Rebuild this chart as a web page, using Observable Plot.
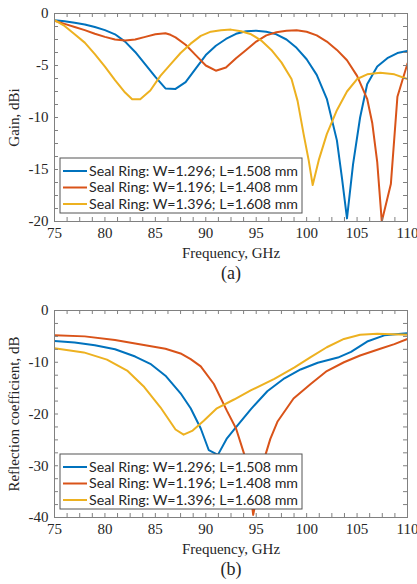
<!DOCTYPE html>
<html><head><meta charset="utf-8">
<script src="https://cdn.jsdelivr.net/npm/d3@7"></script>
<script src="https://cdn.jsdelivr.net/npm/@observablehq/plot@0.6"></script>
<style>
html,body{margin:0;padding:0;background:#fff;}
#wrap{width:417px;}
svg{display:block;}
</style></head>
<body><div id="wrap"></div>
<script>
// ---------- data ----------
const seriesNames = [
  "Seal Ring: W=1.296; L=1.508 mm",
  "Seal Ring: W=1.196; L=1.408 mm",
  "Seal Ring: W=1.396; L=1.608 mm"
];
const seriesColors = ["#0072BD", "#D95319", "#EDB120"];
const xTicks = [75, 80, 85, 90, 95, 100, 105, 110];
const gainTicks = [-20, -15, -10, -5, 0];
const reflTicks = [-40, -30, -20, -10, 0];

// Gain, dBi vs Frequency, GHz
const gainW1296 = [[75,-0.64],[76,-0.75],[77,-0.9],[78,-1.05],[79,-1.3],[80,-1.6],[81,-2.0],[82,-2.7],[83,-3.7],[84,-4.9],[85,-6.1],[86,-7.2],[87,-7.25],[88,-6.6],[89,-5.3],[90,-4.0],[91,-3.1],[92,-2.45],[93,-1.95],[94,-1.7],[95,-1.65],[96,-1.75],[97,-2.0],[98,-2.5],[99,-3.3],[100,-4.4],[101,-5.9],[102,-8.2],[103,-12.2],[103.5,-15.8],[104,-19.7],[104.6,-14.5],[105.3,-10.0],[106,-6.8],[107,-5.1],[108,-4.3],[109,-3.8],[110,-3.6]];
const gainW1196 = [[75,-0.7],[76,-1.0],[77,-1.3],[78,-1.6],[79,-1.95],[80,-2.25],[81,-2.5],[82,-2.6],[83,-2.5],[84,-2.25],[85,-2.0],[86,-1.9],[86.5,-2.05],[87,-2.3],[88,-3.0],[89,-4.0],[90,-5.0],[91,-5.5],[92,-5.2],[93,-4.3],[94,-3.5],[95,-2.7],[96,-2.1],[97,-1.8],[98,-1.65],[99,-1.6],[100,-1.75],[101,-2.1],[102,-2.7],[103,-3.5],[104,-4.5],[105,-6.0],[106,-8.2],[106.5,-10.5],[107,-14.3],[107.45,-20],[108.35,-16.4],[109,-8.0],[110,-4.8]];
const gainW1396 = [[75,-0.64],[76,-1.2],[77,-2.0],[78,-2.8],[79,-3.9],[80,-5.1],[81,-6.4],[82,-7.6],[82.7,-8.25],[83.5,-8.25],[84.5,-7.4],[85.5,-6.0],[86.5,-4.9],[87.5,-3.8],[88.5,-2.9],[89.5,-2.15],[90.5,-1.75],[91.5,-1.6],[92.5,-1.55],[93.5,-1.7],[94.5,-2.0],[95.5,-2.6],[96.5,-3.5],[97.5,-4.7],[98.5,-6.3],[99.1,-8.4],[99.7,-11.6],[100.2,-14.1],[100.6,-16.5],[101.2,-14.1],[102,-11.6],[103,-9.3],[104,-7.5],[105,-6.3],[106,-5.85],[107.3,-5.7],[108.7,-5.85],[110,-6.3]];

// Reflection coefficient, dB vs Frequency, GHz
const reflW1296 = [[75,-5.9],[77,-6.2],[79,-6.7],[81,-7.5],[83,-8.9],[84.5,-10.3],[86,-12.6],[87.5,-16.0],[88.5,-18.9],[89.5,-22.8],[90.3,-27.0],[91.2,-27.9],[92.1,-24.7],[92.8,-23.0],[94.5,-19.0],[96.1,-15.6],[97.8,-13.1],[99.4,-11.4],[101.1,-10.1],[103.1,-9.1],[104.4,-8.0],[106,-6.0],[107.7,-4.8],[110,-4.4]];
const reflW1196 = [[75,-4.8],[78,-5.0],[81,-5.7],[84,-6.7],[86,-7.4],[87.5,-8.3],[88.5,-9.4],[89.5,-10.8],[90.8,-14.2],[92.1,-19.4],[93,-22.8],[93.8,-27.7],[94.3,-33],[94.7,-39.5],[95.3,-33.5],[95.9,-28.0],[96.4,-24.8],[97.1,-21.5],[98.7,-17.0],[100.4,-14.2],[102,-11.7],[103.7,-10.0],[105.3,-8.7],[107.3,-7.4],[108.7,-6.5],[110,-5.5]];
const reflW1396 = [[75,-7.3],[77.9,-8.1],[80.2,-9.5],[82.2,-11.6],[83.9,-14.8],[85.5,-18.7],[87,-23.0],[87.8,-24.0],[88.7,-23.2],[89.8,-21.3],[91.1,-18.9],[92.8,-17.2],[94.5,-15.4],[96.8,-13.2],[98.8,-11.0],[100.4,-9.0],[102,-7.1],[103.7,-5.5],[105.3,-4.7],[107,-4.5],[110,-4.7]];

// ---------- drawing ----------
const serif = "'Liberation Serif', 'Times New Roman', serif";
const sans = "Lato, 'Open Sans', sans-serif";
const axisGray = "#808080";
const textCol = "#262626";

function makeChart({series, yDomain, yTicks, yMinorStep, yLabel, tag, height, marginTop, marginBottom}) {
  const W = 417, mL = 54, mR = 10;
  const plotH = height - marginTop - marginBottom;
  const plotW = W - mL - mR;
  const xMinor = d3.range(75, 110.001, 1.25);
  const yMinor = d3.range(yDomain[0], yDomain[1] + 0.001, yMinorStep);
  const rows = series.flatMap((s, i) => s.map(([f, v]) => ({f, v, k: i})));
  const tl = 4;
  const svg = Plot.plot({
    width: W, height, marginLeft: mL, marginRight: mR, marginTop, marginBottom,
    style: {fontFamily: serif, fontSize: "15px", color: textCol, background: "#fff"},
    x: {domain: [75, 110]},
    y: {domain: yDomain},
    marks: [
      Plot.line(rows, {x: "f", y: "v", z: "k", stroke: d => seriesColors[d.k], strokeWidth: 2, clip: true, curve: "linear"}),
      Plot.tickX(xMinor, {x: d => d, stroke: axisGray, insetTop: plotH - tl}),
      Plot.tickX(xMinor, {x: d => d, stroke: axisGray, insetBottom: plotH - tl}),
      Plot.tickY(yMinor, {y: d => d, stroke: axisGray, insetRight: plotW - tl}),
      Plot.tickY(yMinor, {y: d => d, stroke: axisGray, insetLeft: plotW - tl}),
      Plot.frame({stroke: axisGray}),
      Plot.axisX({ticks: xTicks, tickSize: 0, tickPadding: 6, tickFormat: d => String(d), label: null, fill: textCol, fontSize: 15}),
      Plot.axisY({ticks: yTicks, tickSize: 0, tickPadding: 6, tickFormat: d => String(d), label: null, fill: textCol, fontSize: 15}),
      Plot.text([yLabel], {text: d => d, frameAnchor: "left", textAnchor: "middle", dx: -40, rotate: -90, fill: textCol, fontSize: 15}),
      Plot.text(["Frequency, GHz"], {text: d => d, frameAnchor: "bottom", textAnchor: "middle", dy: 36, fill: textCol, fontSize: 15}),
      Plot.text([tag], {text: d => d, frameAnchor: "bottom", textAnchor: "middle", dy: 57, fill: textCol, fontSize: 18})
    ]
  });
  // legend (layout element, drawn over the curves like the original)
  const bw = 242, bh = 55;
  const g = d3.select(svg).append("g")
    .attr("text-anchor", "start")
    .attr("transform", `translate(${mL + 6},${marginTop + plotH - 8 - bh})`);
  g.append("rect").attr("x", 0).attr("y", 0).attr("width", bw).attr("height", bh)
    .attr("fill", "#fff").attr("stroke", "#555").attr("stroke-width", 1);
  const rowY = [13, 29.5, 46];
  seriesNames.forEach((name, i) => {
    g.append("line").attr("x1", 3).attr("x2", 27).attr("y1", rowY[i]).attr("y2", rowY[i])
      .attr("stroke", seriesColors[i]).attr("stroke-width", 2);
    g.append("text").attr("x", 29).attr("y", rowY[i]).attr("dy", "0.35em")
      .attr("text-anchor", "start")
      .attr("font-family", sans).attr("font-size", 13).attr("fill", textCol)
      .attr("textLength", 209).attr("lengthAdjust", "spacingAndGlyphs")
      .text(name);
  });
  return svg;
}

const wrap = document.getElementById("wrap");
wrap.appendChild(makeChart({
  series: [gainW1296, gainW1196, gainW1396], yDomain: [-20, 0], yTicks: gainTicks, yMinorStep: 1.25,
  yLabel: "Gain, dBi", tag: "(a)", height: 290, marginTop: 13, marginBottom: 69
}));
wrap.appendChild(makeChart({
  series: [reflW1296, reflW1196, reflW1396], yDomain: [-40, 0], yTicks: reflTicks, yMinorStep: 2.5,
  yLabel: "Reflection coefficient, dB", tag: "(b)", height: 294, marginTop: 20, marginBottom: 67
}));
</script>
</body></html>
